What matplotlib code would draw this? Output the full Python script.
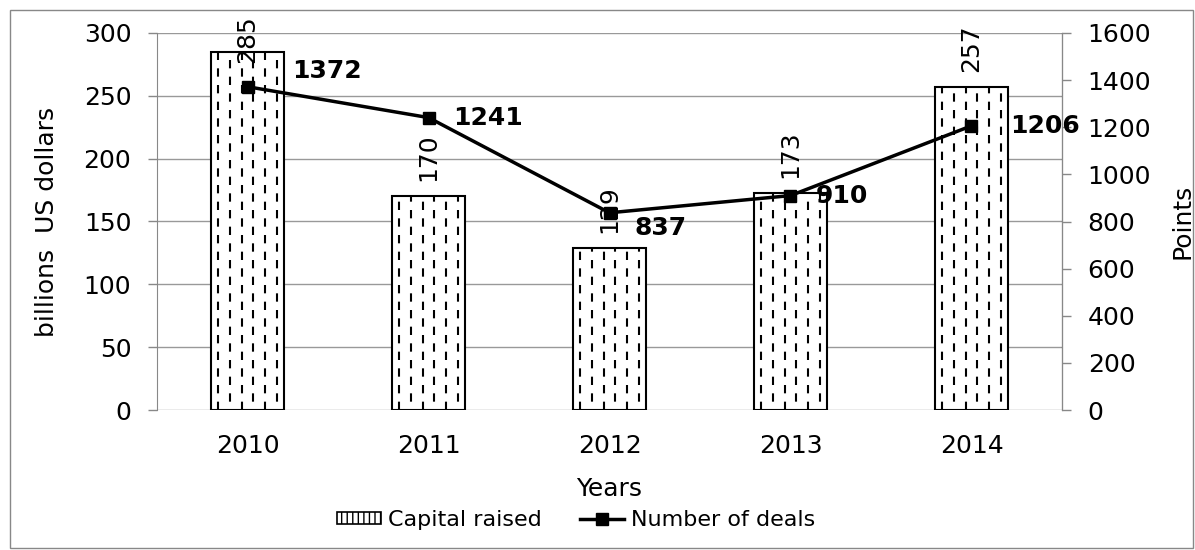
import matplotlib
matplotlib.use("Agg")
import matplotlib.pyplot as plt
from matplotlib.patches import Rectangle
from matplotlib.lines import Line2D

years = ["2010", "2011", "2012", "2013", "2014"]
capital = [285, 170, 129, 173, 257]
deals = [1372, 1241, 837, 910, 1206]
# label offsets (points) for the deal labels, like Excel placed them
deal_offsets = [(32, 11), (18, 0), (18, -11), (18, 0), (28, 0)]

plt.rcParams['font.family'] = ['DejaVu Sans']
fs = 18

fig = plt.figure(figsize=(11.95, 5.5), dpi=100)
ax = fig.add_axes([157/1195, 1 - 410/550, (1062 - 157)/1195, (410 - 33)/550])
ax2 = ax.twinx()

x = list(range(len(years)))
w = 0.4
bars = ax.bar(x, capital, width=w, color="white", edgecolor="black", linewidth=1.5, zorder=2)

# dashed vertical hatch inside each bar
for b in bars:
    x0 = b.get_x()
    for k in range(6):
        xc = x0 + 0.035 + k * 0.066
        ls = (0, (4, 4)) if k % 2 == 0 else (4, (4, 4))
        ln = ax.vlines(xc, 0, b.get_height(), colors="black", linewidth=1.5,
                       linestyles=[ls], zorder=3)
        ln.set_clip_path(b)

for xi, v in zip(x, capital):
    ax.text(xi, min(v + 12, 276), str(v), rotation=90, ha="center", va="bottom",
            fontsize=fs, zorder=5)

ax.set_ylim(0, 300)
ax.set_xlim(-0.5, 4.5)
ax.set_yticks(range(0, 301, 50))
ax.set_xticks(x)
ax.set_xticklabels(years)
ax.tick_params(axis="y", labelsize=fs, length=6.5, color="#888888", width=1, pad=12)
ax.tick_params(axis="x", labelsize=fs, length=0, pad=17)
ax.grid(axis="y", color="#999999", linewidth=1, zorder=0)
ax.set_axisbelow(True)
for s in ["top", "bottom"]:
    ax.spines[s].set_visible(False)
ax.spines["left"].set_color("#888888")
ax.set_ylabel("billions  US dollars", fontsize=fs, labelpad=18)
ax.set_xlabel("Years", fontsize=fs, labelpad=14)

ax2.plot(x, deals, color="black", linewidth=2.5, marker="s", markersize=9, zorder=4)
for xi, v, off in zip(x, deals, deal_offsets):
    ax2.annotate(str(v), (xi, v), xytext=off, textcoords="offset points",
                 ha="left", va="center", fontsize=fs, fontweight="bold", zorder=6)
ax2.set_ylim(0, 1600)
ax2.set_yticks(range(0, 1601, 200))
ax2.tick_params(axis="y", labelsize=fs, length=6.5, color="#888888", width=1, pad=12)
for s in ["top", "bottom", "left"]:
    ax2.spines[s].set_visible(False)
ax2.spines["right"].set_color("#888888")
ax2.set_ylabel("Points", fontsize=fs, labelpad=14)

h1 = Rectangle((0, 0), 1, 1, facecolor="white", edgecolor="black", hatch="|||", linewidth=1.2)
h2 = Line2D([], [], color="black", linewidth=2.5, marker="s", markersize=8)
fig.legend([h1, h2], ["Capital raised", "Number of deals"], loc="center",
           bbox_to_anchor=(576/1195, 1 - 520/550), ncol=2, frameon=False,
           fontsize=16, handlelength=2.0, handletextpad=0.3, columnspacing=1.7,
           handleheight=0.5)

fig.patches.append(Rectangle((10/1195, 2/550), 1183/1195, 538/550, transform=fig.transFigure,
                             fill=False, edgecolor="#888888", linewidth=1))

fig.savefig("out.png", dpi=100)
